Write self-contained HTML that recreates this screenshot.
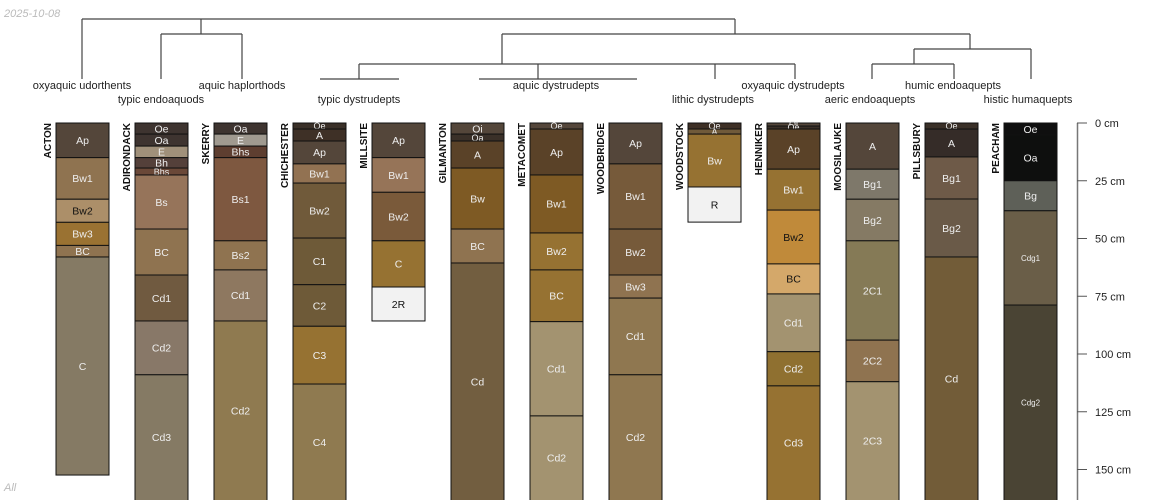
<!DOCTYPE html>
<html><head><meta charset="utf-8">
<style>
html,body{margin:0;padding:0;background:#fff;}
svg{display:block;font-family:"Liberation Sans",sans-serif;}
</style></head>
<body>
<svg id="chart" width="1150" height="500" viewBox="0 0 1150 500" xmlns="http://www.w3.org/2000/svg">
<text x="4" y="17" font-size="11" font-style="italic" fill="#bbb">2025-10-08</text>
<text x="4" y="491" font-size="11" font-style="italic" fill="#bbb">All</text>
<g id="dendro" stroke="#444" stroke-width="1.2" fill="none"></g>
<g id="taxa" font-size="11" fill="#222" text-anchor="middle"></g>
<g id="profiles"></g>
<g id="axis"></g>
</svg>
<script>
const NS="http://www.w3.org/2000/svg";
const profileNames=["ACTON","ADIRONDACK","SKERRY","CHICHESTER","MILLSITE","GILMANTON","METACOMET","WOODBRIDGE","WOODSTOCK","HENNIKER","MOOSILAUKE","PILLSBURY","PEACHAM"];
const horizonNames=[
["Ap","Bw1","Bw2","Bw3","BC","C"],
["Oe","Oa","E","Bh","Bhs","Bs","BC","Cd1","Cd2","Cd3"],
["Oa","E","Bhs","Bs1","Bs2","Cd1","Cd2"],
["Oe","A","Ap","Bw1","Bw2","C1","C2","C3","C4"],
["Ap","Bw1","Bw2","C","2R"],
["Oi","Oa","A","Bw","BC","Cd"],
["Oe","Ap","Bw1","Bw2","BC","Cd1","Cd2"],
["Ap","Bw1","Bw2","Bw3","Cd1","Cd2"],
["Oe","A","Bw","R"],
["Oi","Oe","Ap","Bw1","Bw2","BC","Cd1","Cd2","Cd3"],
["A","Bg1","Bg2","2C1","2C2","2C3"],
["Oe","A","Bg1","Bg2","Cd"],
["Oe","Oa","Bg","Cdg1","Cdg2"]];
const horizonDepths=[
[0,15,33,43,53,58,152.4],
[0,4.8,10,15,19.5,22.5,45.9,65.8,85.7,109,170],
[0,4.8,10,15,51,63.6,85.7,170],
[0,2.6,7.8,17.7,26,49.8,70,88,113,170],
[0,15,30,51,71,85.7],
[0,4.8,7.8,19.5,45.9,60.6,170],
[0,2.6,22.5,47.6,63.6,86,126.8,170],
[0,17.7,45.9,65.8,75.8,109,170],
[0,2.6,4.8,27.7,42.9],
[0,1.3,2.6,20,37.7,61,74,99,113.8,170],
[0,20,33,51,94,112,170],
[0,2.6,14.7,32.9,58,170],
[0,5.2,25,38,78.8,170]];
const horizonColors=[
["#54463a","#8f7350","#ac8f69","#9a7232","#8f7350","#857a64"],
["#3e3430","#3e3430","#a0907a","#54403a","#6a4838","#96745a","#8f7350","#705a40","#887868","#857a64"],
["#3e3430","#a09a90","#5e3e30","#7e5840","#8f7350","#8e7860","#8f7a50"],
["#3a3028","#3e3026","#54463a","#927252","#705a3a","#6e5a38","#6e5a38","#967232","#8f7a50"],
["#54463a","#967458","#7a5a3a","#967232","#f2f2f2"],
["#54463a","#3a3028","#5a4228","#7e5a24","#8f7350","#725e40"],
["#54463a","#5a4228","#7e5a24","#967232","#967232","#a39370","#a39370"],
["#54463a","#765a3a","#765a3a","#8f7350","#8f7750","#8f7750"],
["#3e3026","#705a3a","#967232","#f2f2f2"],
["#54463a","#3a3028","#5a4228","#967232","#c08a3a","#d4a86a","#a39370","#8f7030","#967232"],
["#54463a","#7e786a","#857a64","#857a56","#8f7350","#a39370"],
["#3a3028","#352c28","#6e5a48","#6a5a48","#725c38"],
["#0f0f0f","#0e0f0e","#5e6058","#6a5e48","#4a4434"]];
const darkText=["#ac8f69","#f2f2f2","#d4a86a","#c08a3a"];
const depthTicks=[0,25,50,75,100,125,150];

const y0=123,pxPerCm=2.31,x0=56,dx=79,w=53;
const yScale=d=>y0+d*pxPerCm;
const xScale=i=>x0+i*dx;

const gP=document.getElementById('profiles');
profileNames.forEach((name,i)=>{
  const g=document.createElementNS(NS,'g');
  
  
  const x=xScale(i);
  const d=horizonDepths[i];
  horizonNames[i].forEach((h,j)=>{
    const yt=yScale(d[j]),yb=yScale(d[j+1]);
    const r=document.createElementNS(NS,'rect');
    
    
    r.setAttribute('x',x);r.setAttribute('y',yt);r.setAttribute('width',w);r.setAttribute('height',yb-yt);
    r.setAttribute('fill',horizonColors[i][j]);r.setAttribute('stroke','#111');r.setAttribute('stroke-width','1');
    g.appendChild(r);
    const t=document.createElementNS(NS,'text');
    
    
    const hh=yb-yt;
    const fs=h.startsWith('Cdg')?8:(hh<9?9:10.5);
    t.setAttribute('x',x+w/2);t.setAttribute('y',(yt+Math.min(yb,500))/2+fs*0.36);
    t.setAttribute('font-size',fs);t.setAttribute('text-anchor','middle');
    t.setAttribute('fill',darkText.includes(horizonColors[i][j])?'#111':'#eee');
    t.textContent=h;
    g.appendChild(t);
  });
  const n=document.createElementNS(NS,'text');
  
  
  n.setAttribute('transform','translate('+(x-5)+','+(y0)+') rotate(-90)');
  n.setAttribute('text-anchor','end');n.setAttribute('font-size','10');n.setAttribute('font-weight','bold');n.setAttribute('fill','#111');
  n.textContent=name;
  g.appendChild(n);
  gP.appendChild(g);
});

// axis
const gA=document.getElementById('axis');
const ax=document.createElementNS(NS,'line');


ax.setAttribute('x1',1077.5);ax.setAttribute('x2',1077.5);ax.setAttribute('y1',yScale(0));ax.setAttribute('y2',500);
ax.setAttribute('stroke','#777');ax.setAttribute('stroke-width','1.5');gA.appendChild(ax);
depthTicks.forEach(v=>{
  const l=document.createElementNS(NS,'line');
  
  
  l.setAttribute('x1',1077);l.setAttribute('x2',1087);l.setAttribute('y1',yScale(v));l.setAttribute('y2',yScale(v));
  l.setAttribute('stroke','#555');gA.appendChild(l);
  const t=document.createElementNS(NS,'text');
  
  
  t.setAttribute('x',1095);t.setAttribute('y',yScale(v)+4);t.setAttribute('font-size','11');t.setAttribute('fill','#222');
  t.textContent=v+' cm';gA.appendChild(t);
});

// dendrogram
const dendroSegs=[[82,19,735,19],[82,19,82,79],[201,19,201,34],[161,34,242,34],[161,34,161,79],[242,34,242,79],
[735,19,735,34],[502,34,970,34],[502,34,502,64],[359,64,795,64],[359,64,359,79],[320,79,399,79],
[538,64,538,79],[479,79,637,79],[715,64,715,79],[795,64,795,79],[970,34,970,49],[914,49,1031,49],
[914,49,914,64],[1031,49,1031,79],[872,64,954,64],[872,64,872,79],[954,64,954,79]];
const gD=document.getElementById('dendro');
dendroSegs.forEach(s=>{
  const l=document.createElementNS(NS,'line');
  
  
  l.setAttribute('x1',s[0]);l.setAttribute('y1',s[1]);l.setAttribute('x2',s[2]);l.setAttribute('y2',s[3]);
  gD.appendChild(l);
});
const taxa=[["oxyaquic udorthents",82,89],["typic endoaquods",161,103],["aquic haplorthods",242,89],["typic dystrudepts",359,103],
["aquic dystrudepts",556,89],["lithic dystrudepts",713,103],["oxyaquic dystrudepts",793,89],["aeric endoaquepts",870,103],
["humic endoaquepts",953,89],["histic humaquepts",1028,103]];
const gT=document.getElementById('taxa');
taxa.forEach(a=>{
  const t=document.createElementNS(NS,'text');
  
  
  t.setAttribute('x',a[1]);t.setAttribute('y',a[2]);t.textContent=a[0];gT.appendChild(t);
});
</script>
</body></html>
